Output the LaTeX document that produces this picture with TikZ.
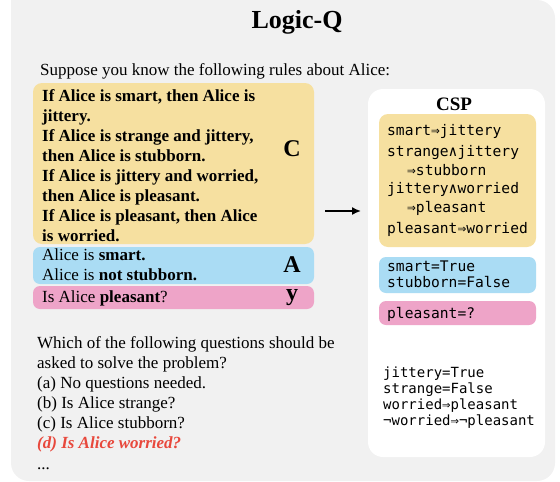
\documentclass[tikz,border=0pt]{standalone}
\usepackage{fontspec}
\setmainfont{Liberation Serif}
\setmonofont{DejaVu Sans Mono}
\usetikzlibrary{arrows.meta,positioning}
\definecolor{PanelGray}{RGB}{241,241,241}
\definecolor{RuleYellow}{RGB}{246,224,160}
\definecolor{FactBlue}{RGB}{170,220,244}
\definecolor{QueryPink}{RGB}{238,164,200}
\definecolor{AnswerRed}{RGB}{232,72,60}
\tikzset{
  txt/.style={inner sep=0pt, anchor=north west, align=left, font=\fontsize{17}{20}\selectfont},
  bigtag/.style={inner sep=0pt, anchor=base, font=\fontsize{24}{24}\selectfont\bfseries},
  mono/.style={txt, font=\fontsize{14.6}{16}\selectfont\ttfamily},
}

\begin{document}
\begin{tikzpicture}[x=1pt, y=-1pt]
      \useasboundingbox (0,0) rectangle (560,482);
      \fill[PanelGray] (11,0) [rounded corners=18pt] -- (11,481) -- (555,481) -- (555,0) [sharp corners] -- cycle;
      \node[bigtag, anchor=center, font=\fontsize{26}{26}\selectfont\bfseries] (title) at (297,22) {Logic-Q};
      \node[txt, anchor=base west] (intro) at (40,75) {Suppose you know the following rules about Alice:};
      % left: natural language problem
      \fill[RuleYellow, rounded corners=9pt] (33,83) rectangle (314,244);
      \fill[FactBlue, rounded corners=7pt] (33,247) rectangle (314,284);
      \fill[QueryPink, rounded corners=7pt] (33,286) rectangle (314,309);
      \node[txt, font=\fontsize{17}{20}\selectfont\bfseries] (rules) at (42,87)
        {\strut If Alice is smart, then Alice is\\ jittery.\\ If Alice is strange and jittery,\\ then Alice is stubborn.\\
         If Alice is jittery and worried,\\ then Alice is pleasant.\\ If Alice is pleasant, then Alice\\ is worried.};
      \node[txt] (facts) at (42,246)
        {\strut Alice is \textbf{smart.}\\ Alice is \textbf{not stubborn.}};
      \node[txt, anchor=base west] (query) at (42,302) {Is Alice \textbf{pleasant}?};
      \node[bigtag] (tagC) at (292,156) {C};
      \node[bigtag] (tagA) at (292,272) {A};
      \node[bigtag] (tagY) at (292,300.5) {y};
      \node[txt] (ask) at (37,334)
        {\strut Which of the following questions should be\\ asked to solve the problem?\\ (a) No questions needed.\\
         (b) Is Alice strange?\\ (c) Is Alice stubborn?\\ \textcolor{AnswerRed}{\textbf{\textit{(d) Is Alice worried?}}}\\[1pt] ...};
      % right: CSP form
      \fill[white, rounded corners=15pt] (368,89) rectangle (545,457);
      \node[bigtag, anchor=center, font=\fontsize{19}{19}\selectfont\bfseries] (csp) at (454,104) {CSP};
      \fill[RuleYellow, rounded corners=9pt] (379,114) rectangle (536,247);
      \fill[FactBlue, rounded corners=7pt] (379,257) rectangle (536,293);
      \fill[QueryPink, rounded corners=7pt] (379,301) rectangle (536,325);
      \node[mono, font=\fontsize{14.6}{18.5}\selectfont\ttfamily] (cons) at (387,122)
        {\strut smart⇒jittery\\[3pt] strange∧jittery\\ \hspace*{20pt}⇒stubborn\\ jittery∧worried\\ \hspace*{20pt}⇒pleasant\\[2.5pt] pleasant⇒worried};
      \node[mono] (assign) at (387,260) {\strut smart=True\\ stubborn=False};
      \node[mono, anchor=base west] (target) at (387,318) {pleasant=?};
      \node[mono, font=\fontsize{14}{16}\selectfont\ttfamily] (derived) at (383,366)
        {\strut jittery=True\\ strange=False\\ worried⇒pleasant\\ ¬worried⇒¬pleasant};
      \coordinate (arrS) at (325,211);
      \coordinate (arrE) at (361,211);
      \draw[-{Latex[length=9pt, width=8pt]}, line width=1.6pt] (arrS) -- (arrE);
\end{tikzpicture}
\end{document}
